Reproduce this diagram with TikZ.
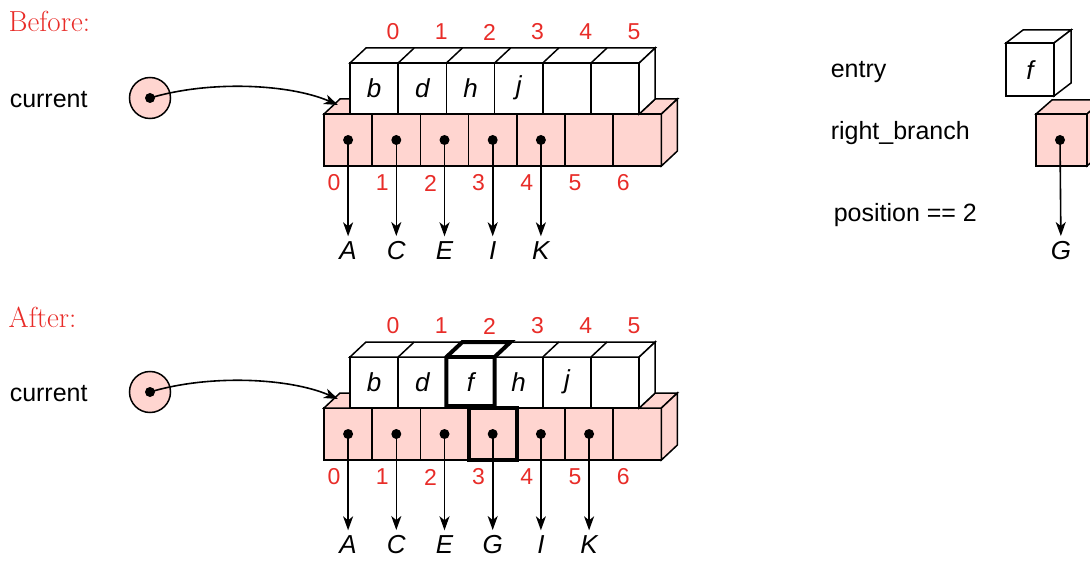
\documentclass[tikz,border=0pt]{standalone}
\usepackage{fontspec}
\setsansfont{Liberation Sans}
\usetikzlibrary{arrows.meta}

\definecolor{cellpink}{RGB}{255,213,208}
\definecolor{idxred}{RGB}{232,44,40}

\tikzset{
  lbl/.style={font=\sffamily\fontsize{25}{30}\selectfont, anchor=west, inner sep=0pt},
  head/.style={font=\fontsize{29}{34}\selectfont, text=idxred, anchor=west, inner sep=0pt},
  idx/.style={font=\sffamily\fontsize{23}{27}\selectfont, text=idxred, inner sep=0pt},
  key/.style={font=\sffamily\itshape\fontsize{26}{31}\selectfont, inner sep=0pt},
  ptr/.style={-{Stealth[length=14pt,width=10pt,inset=4pt]}, line width=1.6pt},
  dot/.style={circle, fill=black, inner sep=0pt, minimum size=10pt},
  hilite/.style={line width=4pt},
}

% one list: white entry row on top of the pink branch row
\newcommand{\keyrow}[3]{% #1 prefix, #2 entries, #3 branch targets
  \foreach \i in {0,...,6}
    \draw[fill=cellpink] ({324+48.2*\i},114) rectangle ++(48.2,52);
  \draw[fill=cellpink] (324,114) -- (340,99) -- (350,99) -- (350,114) -- cycle;
  \draw[fill=cellpink] (639.2,114) -- (655.2,99) -- (677.4,99) -- (661.4,114) -- cycle;
  \draw[fill=cellpink] (661.4,114) -- (677.4,99) -- (677.4,151) -- (661.4,166) -- cycle;
  \foreach \i in {0,...,5}
    \draw[fill=white] ({350+48.2*\i},63) rectangle ++(48.2,51);
  \draw[fill=white] (350,63) -- (366,48) -- (655.2,48) -- (639.2,63) -- cycle;
  \foreach \i in {1,...,5}
    \draw ({350+48.2*\i},63) -- ++(16,-15);
  \draw[fill=white] (639.2,63) -- (655.2,48) -- (655.2,99) -- (639.2,114) -- cycle;
  \foreach \c [count=\i from 0] in {#2}
    \node[key] (#1ent\i) at ({374.1+48.2*\i},88) {\c};
  \foreach \i in {0,...,5}
    \node[idx] (#1top\i) at ({393+48.2*\i},32) {\i};
  \foreach \i in {0,...,6}
    \node[idx] (#1low\i) at ({334+48.2*\i},183) {\i};
  \foreach \t [count=\i from 0] in {#3} {
    \node[dot] (#1dot\i) at ({348.1+48.2*\i},140) {};
    \node[key] (#1tgt\i) at ({348.1+48.2*\i},251) {\t};
    \draw[ptr, shorten >=5pt] (#1dot\i.center) -- (#1tgt\i);
  }
  % current pointer
  \node[circle, draw, fill=cellpink, minimum size=41pt, inner sep=0pt] (#1cur) at (150,98) {};
  \node[dot] (#1curdot) at (#1cur.center) {};
  \coordinate (#1hit) at (338,105);
  \draw[ptr] (#1curdot.center) .. controls (210,80) and (290,84) .. (#1hit);
  \node[lbl] (#1curlbl) at (9,100) {current};
}

\begin{document}
\begin{tikzpicture}[x=1pt, y=-1pt, line width=1.5pt]
  \useasboundingbox (0,0) rectangle (1090,564);

  % before
  \keyrow{b}{b,d,h,j}{A,C,E,I,K}
  \node[head] (before) at (8,21) {Before:};

  % after
  \begin{scope}[yshift=-294pt]
    \keyrow{a}{b,d,f,h,j}{A,C,E,G,I,K}
    \node[head] (after) at (8,23) {After:};
    \draw[hilite] (446.4,114) -- (446.4,63) -- (462.4,48) -- (510.6,48) -- (494.6,63) -- (494.6,114);
    \draw[hilite] (446.4,63) -- (494.6,63);
    \draw[hilite] (446.4,112) -- (494.6,112);
    \draw[hilite] (468.6,114) rectangle ++(48.2,52);
  \end{scope}

  % new entry and branch
  \node[lbl] (entrylbl) at (830,72) {entry};
  \node[lbl] (branchlbl) at (830,133) {right\_branch};
  \node[lbl] (poslbl) at (833,215) {position == 2};
  \draw[fill=white] (1006,43) rectangle (1054,96);
  \draw[fill=white] (1006,43) -- (1023,30) -- (1071,30) -- (1054,43) -- cycle;
  \draw[fill=white] (1054,43) -- (1071,30) -- (1071,83) -- (1054,96) -- cycle;
  \node[key] (newent) at (1030,70) {f};
  \draw[fill=cellpink] (1036,114) rectangle (1087,166);
  \draw[fill=cellpink] (1036,114) -- (1052,100) -- (1103,100) -- (1087,114) -- cycle;
  \draw[fill=cellpink] (1087,114) -- (1103,100) -- (1103,152) -- (1087,166) -- cycle;
  \node[dot] (newdot) at (1060,140) {};
  \node[key] (newtgt) at (1061,251) {G};
  \draw[ptr, shorten >=5pt] (newdot.center) -- (newtgt);
\end{tikzpicture}
\end{document}
